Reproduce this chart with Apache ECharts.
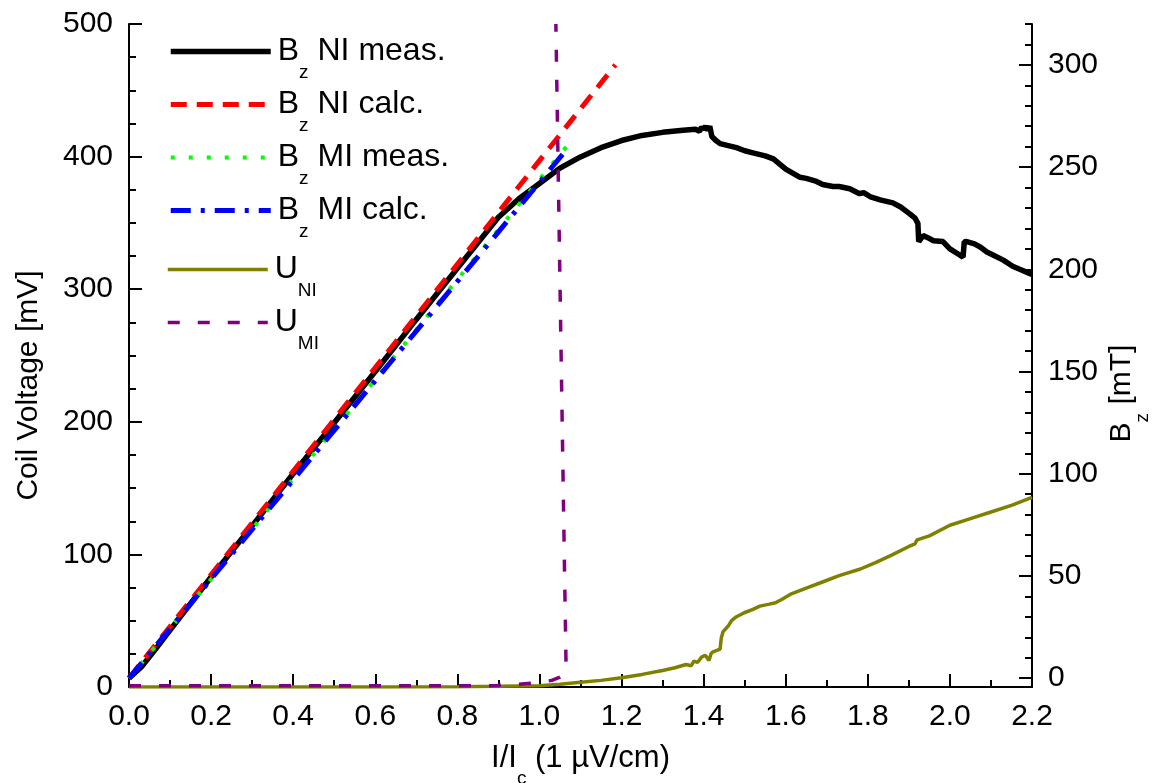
<!DOCTYPE html>
<html><head><meta charset="utf-8">
<script src="https://cdn.jsdelivr.net/npm/echarts@6/dist/echarts.min.js"></script>
<style>html,body{margin:0;padding:0;background:#fff}#c{width:1157px;height:783px}</style>
</head><body><div id="c"></div>
<script>
// ---- data (x = I/Ic) ----
const bzNIMeasX = [0,0.03,0.06,0.1,0.2,0.3,0.4,0.5,0.6,0.7,0.8,0.85,0.9,0.95,1.0,1.05,1.1,1.15,1.2,1.25,1.3,1.35,1.38,1.39,1.395,1.40,1.405,1.41,1.415,1.42,1.43,1.44,1.46,1.48,1.5,1.52,1.55,1.57,1.6,1.635,1.65,1.675,1.69,1.715,1.73,1.756,1.78,1.79,1.805,1.83,1.861,1.88,1.903,1.915,1.922,1.924,1.927,1.935,1.946,1.96,1.983,2.0,2.02,2.032,2.035,2.041,2.06,2.073,2.09,2.105,2.13,2.153,2.17,2.188,2.2];
const bzNIMeasY = [0,5.5,13,23.5,49.5,74.5,100,125,150,175.5,200.5,213,225.5,234.5,242,249.5,255,259.5,263,265.5,267,268,268.5,267.5,269.5,268.5,270,268,270,265,263,261.5,260.5,259.5,258,257,255.5,254,249,245,244.5,243,241.5,240.5,240.5,239.4,237,237.5,235.6,234,232.5,230.5,227,225,222.5,213.5,213,216.5,215.5,214,213.6,210,207.5,206,213.5,213.6,212.5,211,208.5,207,204.5,201.5,200,198.5,197.5];
const bzNICalcX = [0,1.185];
const bzNICalcY = [0,300];
const bzMIMeasX = [0,0.2,0.4,0.6,0.8,1.0,1.066];
const bzMIMeasY = [0,48.5,97.5,146,195,244,260];
const bzMICalcX = [0,1.062];
const bzMICalcY = [0,257.6];
const uNIX = [0,0.2,0.4,0.6,0.8,0.9,1.0,1.05,1.1,1.15,1.2,1.25,1.3,1.33,1.357,1.37,1.376,1.385,1.395,1.404,1.413,1.418,1.423,1.44,1.443,1.447,1.461,1.468,1.48,1.499,1.52,1.537,1.56,1.575,1.59,1.612,1.65,1.688,1.73,1.782,1.82,1.858,1.9,1.915,1.92,1.95,2.0,2.05,2.1,2.15,2.2];
const uNIY = [0,0,0,0,0.2,0.5,1,2,3.5,5,7,9.5,12.5,14.5,17,16,19.5,18.5,22.5,24,20,25,26.5,28.5,37,41.5,46.5,50,53,56,58.5,61,62.5,63.5,66,70,74.5,79,84,89,94,99.5,106,108,111,114,122,127,132,137,143];
const uMIX = [0,0.2,0.4,0.6,0.8,0.85,0.9,0.95,1.0,1.03,1.05,1.058,1.065,1.040];
const uMIY = [1,1,1,1,1,0.8,1.2,2,3.5,5,7.5,9.5,12,500];
const xTickLabels = ['0.0','0.2','0.4','0.6','0.8','1.0','1.2','1.4','1.6','1.8','2.0','2.2'];
const rightTicks = [0,50,100,150,200,250,300];
const rightMinor = [0,10,20,30,40,50,60,70,80,90,100,110,120,130,140,150,160,170,180,190,200,210,220,230,240,250,260,270,280,290,300,310,320];

const zip = (xs, ys) => xs.map((x, i) => [x, ys[i]]);
const FONT = 'Liberation Sans, Arial, sans-serif';
const P = 42;
const makeRich = (fs) => ({
  m: {fontSize: fs, fontFamily: FONT, color: '#000', lineHeight: 40},
  s: {fontSize: 19, fontFamily: FONT, color: '#000', lineHeight: 40, padding: [P, 0, 0, 0]}
});
const legendText = {
  'Bz NI meas.': '{m|B}{s|z}{m| NI meas.}',
  'Bz NI calc.': '{m|B}{s|z}{m| NI calc.}',
  'Bz MI meas.': '{m|B}{s|z}{m| MI meas.}',
  'Bz MI calc.': '{m|B}{s|z}{m| MI calc.}',
  'UNI': '{m|U}{s|NI}',
  'UMI': '{m|U}{s|MI}'
};
const axisCommon = {
  axisLine: {show: true, lineStyle: {color: '#000', width: 2}},
  axisTick: {show: true, inside: true, length: 13, lineStyle: {color: '#000', width: 2}},
  minorTick: {show: true, length: 7, lineStyle: {color: '#000', width: 2}},
  splitLine: {show: false},
  axisLabel: {color: '#000', fontSize: 30, fontFamily: FONT}
};
const legendCommon = {
  orient: 'vertical', padding: 0, itemWidth: 100, itemHeight: 20, itemGap: -8,
  formatter: n => legendText[n],
  itemStyle: {opacity: 0},
  lineStyle: {width: 'inherit'},
  textStyle: {fontSize: 32, fontFamily: FONT, color: '#000', padding: [0, 0, 0, 2], rich: makeRich(32)}
};
const chart = echarts.init(document.getElementById('c'), null, {renderer: 'canvas'});
chart.setOption({
  animation: false,
  backgroundColor: '#fff',
  grid: {left: 129, right: 125, top: 24, bottom: 96, containLabel: false, outerBoundsMode: 'none'},
  legend: [
    Object.assign({}, legendCommon, {data: ['Bz NI meas.', 'Bz NI calc.', 'Bz MI meas.', 'Bz MI calc.'], left: 168, top: 21}),
    Object.assign({}, legendCommon, {data: ['UNI', 'UMI'], left: 166, top: 239})
  ],
  xAxis: Object.assign({}, axisCommon, {
    type: 'value', min: 0, max: 2.2, interval: 0.2,
    minorTick: Object.assign({}, axisCommon.minorTick, {splitNumber: 2}),
    axisLabel: Object.assign({}, axisCommon.axisLabel, {margin: 15,
      formatter: v => xTickLabels[Math.round(v / 0.2)]}),
    name: '{m|I/I}{s|c}{m| (1 µV/cm)}', nameLocation: 'middle', nameGap: 51, nameMoveOverlap: false,
    nameTextStyle: {rich: makeRich(31)}
  }),
  yAxis: [
    Object.assign({}, axisCommon, {
      type: 'value', min: 0, max: 500, interval: 100, position: 'left',
      minorTick: Object.assign({}, axisCommon.minorTick, {splitNumber: 4}),
      axisLabel: Object.assign({}, axisCommon.axisLabel, {margin: 16}),
      name: '{m|Coil Voltage [mV]}', nameLocation: 'middle', nameGap: 80, nameMoveOverlap: false,
      nameTextStyle: {rich: makeRich(30), padding: [0, 60, 0, 0]}
    }),
    Object.assign({}, axisCommon, {
      type: 'value', min: -4.3, max: 320, position: 'right',
      axisTick: Object.assign({}, axisCommon.axisTick, {customValues: rightTicks}),
      minorTick: {show: false},
      axisLabel: Object.assign({}, axisCommon.axisLabel, {margin: 16, customValues: rightTicks}),
      name: '{m|B}{s|z}{m| [mT]}', nameLocation: 'middle', nameGap: 70, nameMoveOverlap: false,
      nameTextStyle: {rich: makeRich(30), padding: [0, 76, 0, 0]}
    }),
    {
      type: 'value', min: -4.3, max: 320, position: 'right',
      axisLine: {show: false}, splitLine: {show: false}, axisLabel: {show: false},
      axisTick: {show: true, inside: true, length: 7, customValues: rightMinor, lineStyle: {color: '#000', width: 2}},
      minorTick: {show: false}
    }
  ],
  series: [
    {name: 'Bz NI meas.', type: 'line', yAxisIndex: 1, symbol: 'none', data: zip(bzNIMeasX, bzNIMeasY),
     lineStyle: {color: '#000000', width: 5.5}, itemStyle: {color: '#000000'}},
    {name: 'Bz NI calc.', type: 'line', yAxisIndex: 1, symbol: 'none', data: zip(bzNICalcX, bzNICalcY),
     lineStyle: {color: '#ff0000', width: 5, type: [16, 10]}, itemStyle: {color: '#ff0000'}},
    {name: 'Bz MI meas.', type: 'line', yAxisIndex: 1, symbol: 'none', data: zip(bzMIMeasX, bzMIMeasY),
     lineStyle: {color: '#00ff00', width: 4, type: [4, 14]}, itemStyle: {color: '#00ff00'}},
    {name: 'Bz MI calc.', type: 'line', yAxisIndex: 1, symbol: 'none', data: zip(bzMICalcX, bzMICalcY),
     lineStyle: {color: '#0000ff', width: 5, type: [20, 10, 4, 10]}, itemStyle: {color: '#0000ff'}},
    {name: 'UNI', type: 'line', yAxisIndex: 0, symbol: 'none', data: zip(uNIX, uNIY),
     lineStyle: {color: '#808000', width: 3.5}, itemStyle: {color: '#808000'}},
    {name: 'UMI', type: 'line', yAxisIndex: 0, symbol: 'none', data: zip(uMIX, uMIY),
     lineStyle: {color: '#800080', width: 3.5, type: [12, 18]}, itemStyle: {color: '#800080'}}
  ]
});
</script>
</body></html>
